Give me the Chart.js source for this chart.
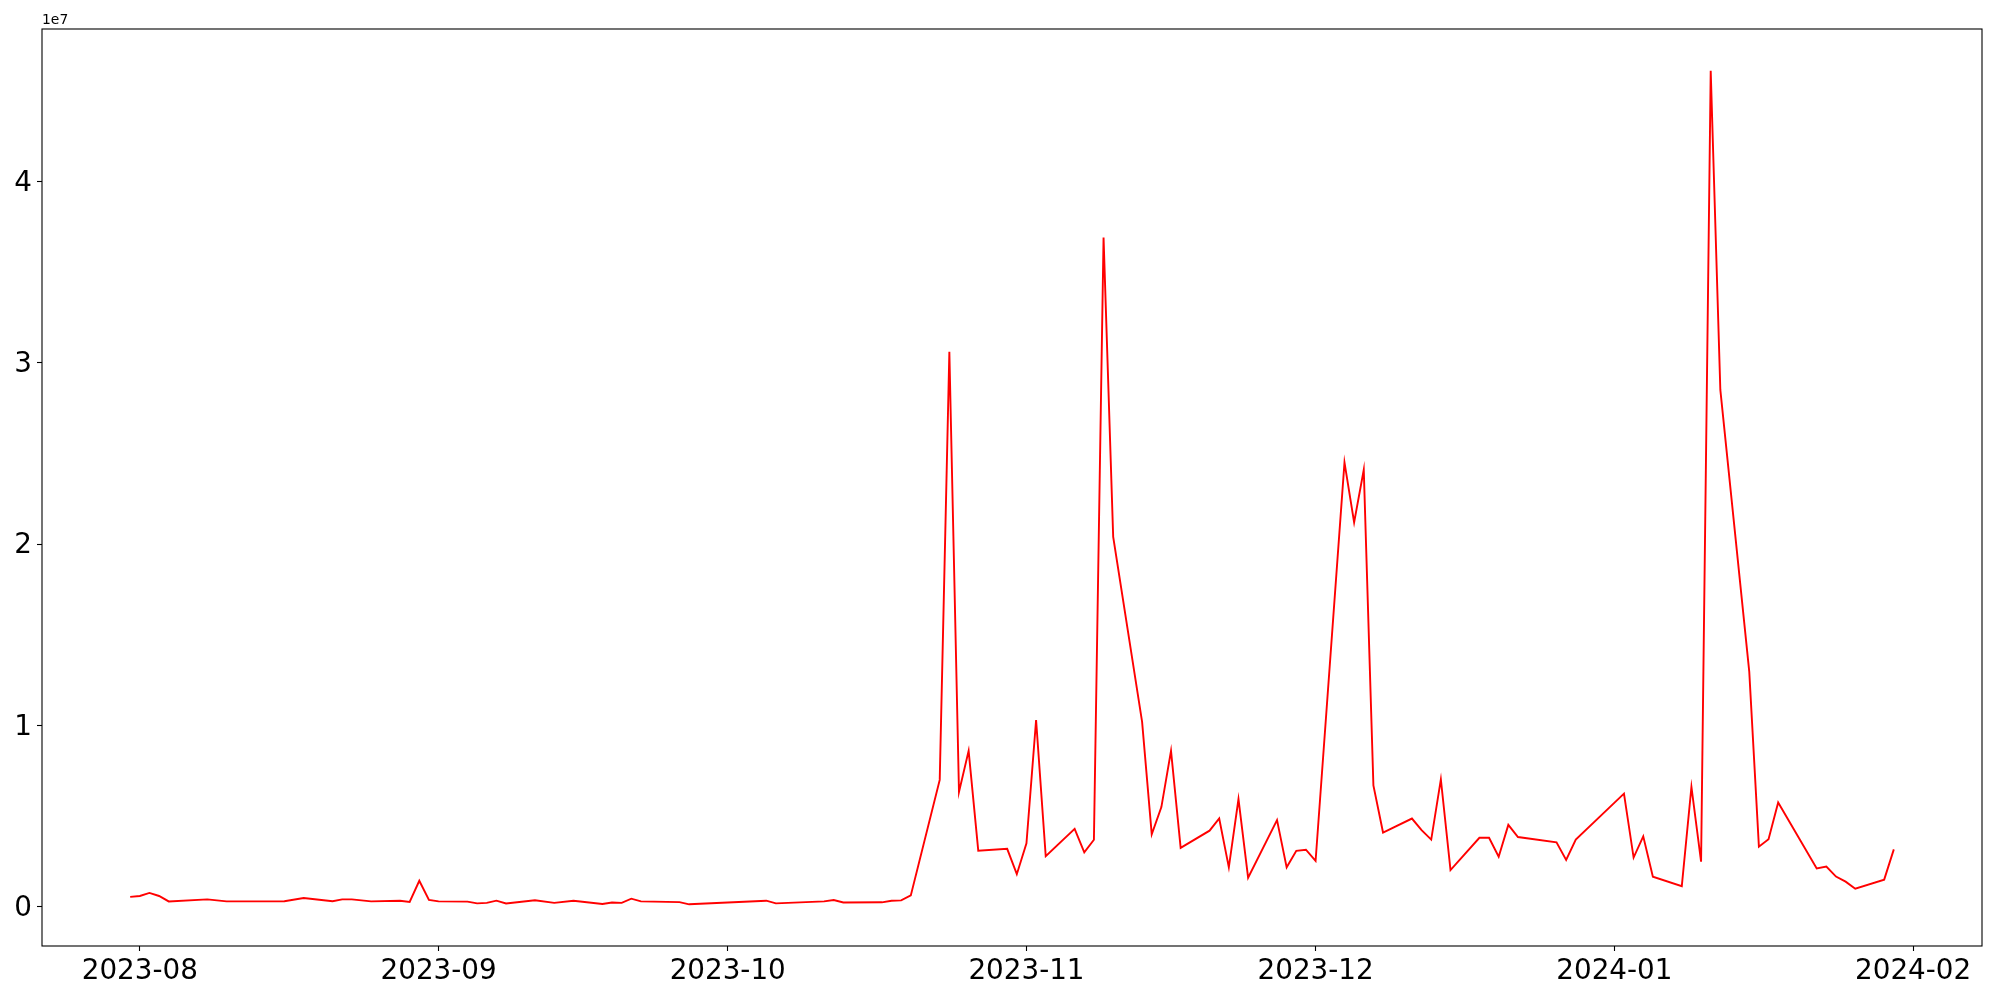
<!DOCTYPE html>
<html>
<head>
<meta charset="utf-8">
<script src="https://cdn.jsdelivr.net/npm/chart.js@4/dist/chart.umd.min.js"></script>
<style>
    html, body { margin: 0; padding: 0; background: #fff; }
    #wrap { width: 2000px; height: 1000px; }
</style>
</head>
<body>
<div id="wrap"><canvas id="chartVolume" width="2000" height="1000"></canvas></div>
<script>
// dates and values
const dates = [
    '2023-07-31', '2023-08-01', '2023-08-02', '2023-08-03', '2023-08-04', '2023-08-08', '2023-08-10',
    '2023-08-16', '2023-08-18', '2023-08-21', '2023-08-22', '2023-08-23', '2023-08-25', '2023-08-28',
    '2023-08-29', '2023-08-30', '2023-08-31', '2023-09-01', '2023-09-04', '2023-09-05', '2023-09-06',
    '2023-09-07', '2023-09-08', '2023-09-11', '2023-09-13', '2023-09-15', '2023-09-18', '2023-09-19',
    '2023-09-20', '2023-09-21', '2023-09-22', '2023-09-26', '2023-09-27', '2023-10-05', '2023-10-06',
    '2023-10-11', '2023-10-12', '2023-10-13', '2023-10-17', '2023-10-18', '2023-10-19', '2023-10-20',
    '2023-10-23', '2023-10-24', '2023-10-25', '2023-10-26', '2023-10-27', '2023-10-30', '2023-10-31',
    '2023-11-01', '2023-11-02', '2023-11-03', '2023-11-06', '2023-11-07', '2023-11-08', '2023-11-09',
    '2023-11-10', '2023-11-13', '2023-11-14', '2023-11-15', '2023-11-16', '2023-11-17', '2023-11-20',
    '2023-11-21', '2023-11-22', '2023-11-23', '2023-11-24', '2023-11-27', '2023-11-28', '2023-11-29',
    '2023-11-30', '2023-12-01', '2023-12-04', '2023-12-05', '2023-12-06', '2023-12-07', '2023-12-08',
    '2023-12-11', '2023-12-12', '2023-12-13', '2023-12-14', '2023-12-15', '2023-12-18', '2023-12-19',
    '2023-12-20', '2023-12-21', '2023-12-22', '2023-12-26', '2023-12-27', '2023-12-28', '2024-01-02',
    '2024-01-03', '2024-01-04', '2024-01-05', '2024-01-08', '2024-01-09', '2024-01-10', '2024-01-11',
    '2024-01-12', '2024-01-15', '2024-01-16', '2024-01-17', '2024-01-18', '2024-01-22', '2024-01-23',
    '2024-01-24', '2024-01-25', '2024-01-26', '2024-01-29', '2024-01-30'
];

const values = [
    550000, 600000, 770000, 600000, 300000, 410000, 300000,
    310000, 490000, 310000, 410000, 410000, 300000, 340000,
    270000, 1440000, 380000, 300000, 290000, 190000, 220000,
    340000, 190000, 360000, 220000, 340000, 160000, 240000,
    220000, 450000, 300000, 260000, 140000, 340000, 190000,
    300000, 380000, 240000, 250000, 340000, 360000, 630000,
    7000000, 30600000, 6330000, 8600000, 3100000, 3200000, 1800000,
    3500000, 10300000, 2800000, 4300000, 3000000, 3700000, 36900000,
    20400000, 10200000, 4000000, 5500000, 8600000, 3250000, 4200000,
    4870000, 2180000, 5940000, 1610000, 4780000, 2180000, 3090000,
    3150000, 2530000, 24500000, 21200000, 24100000, 6700000, 4100000,
    4870000, 4230000, 3710000, 7030000, 2030000, 3810000, 3810000,
    2760000, 4520000, 3850000, 3560000, 2590000, 3710000, 6240000,
    2720000, 3890000, 1660000, 1140000, 6610000, 2490000, 46100000,
    28500000, 12970000, 3320000, 3730000, 5750000, 2120000, 2220000,
    1670000, 1390000, 1000000, 1500000, 3170000
];

const monthTicks = ['2023-08', '2023-09', '2023-10', '2023-11', '2023-12', '2024-01', '2024-02'];
const valueTicks = [0, 1e7, 2e7, 3e7, 4e7];

const xs = dates.map(d => Date.parse(d));
const points = xs.map((x, i) => ({ x: x, y: values[i] }));

// 5% margins like matplotlib
const xMin = Math.min(...xs), xMax = Math.max(...xs);
const yMin = Math.min(...values), yMax = Math.max(...values);
const xPad = (xMax - xMin) * 0.05, yPad = (yMax - yMin) * 0.05;

const tickFont = { family: '"DejaVu Sans", sans-serif', size: 27.8 };

// frame round the plot and the 1e7 offset text
const framePlugin = {
    id: 'framePlugin',
    afterDraw(chart) {
        const a = chart.chartArea;
        const ctx = chart.ctx;
        ctx.save();
        ctx.strokeStyle = '#000';
        ctx.lineWidth = 1.1;
        ctx.strokeRect(a.left, a.top, a.right - a.left, a.bottom - a.top);
        ctx.fillStyle = '#000';
        ctx.font = '13.9px "DejaVu Sans", sans-serif';
        ctx.textBaseline = 'alphabetic';
        ctx.textAlign = 'left';
        ctx.fillText('1e7', a.left, a.top - 5);
        ctx.restore();
    }
};

new Chart(document.getElementById('chartVolume').getContext('2d'), {
    type: 'line',
    data: {
        datasets: [{
            data: points,
            borderColor: '#ff0000',
            borderWidth: 1.9,
            pointRadius: 0,
            tension: 0,
            fill: false
        }]
    },
    options: {
        responsive: false,
        animation: false,
        layout: { padding: { top: 29, right: 18, left: 0, bottom: 0 } },
        plugins: { legend: { display: false }, tooltip: { enabled: false } },
        scales: {
            x: {
                type: 'linear',
                min: xMin - xPad,
                max: xMax + xPad,
                afterBuildTicks: scale => {
                    scale.ticks = monthTicks.map(m => ({ value: Date.parse(m + '-01') }));
                },
                afterFit: scale => { scale.height = 54; },
                ticks: {
                    autoSkip: false,
                    maxRotation: 0,
                    color: '#000',
                    font: tickFont,
                    padding: 4,
                    callback: (v, i) => monthTicks[i]
                },
                grid: { drawOnChartArea: false, tickLength: 5, color: '#000', tickWidth: 1.1 },
                border: { display: false }
            },
            y: {
                min: yMin - yPad,
                max: yMax + yPad,
                afterBuildTicks: scale => {
                    scale.ticks = valueTicks.map(v => ({ value: v }));
                },
                afterFit: scale => { scale.width = 42; },
                ticks: {
                    color: '#000',
                    font: tickFont,
                    padding: 5,
                    labelOffset: 2,
                    callback: v => String(v / 1e7)
                },
                grid: { drawOnChartArea: false, tickLength: 5, color: '#000', tickWidth: 1.1 },
                border: { display: false }
            }
        }
    },
    plugins: [framePlugin]
});
</script>
</body>
</html>
